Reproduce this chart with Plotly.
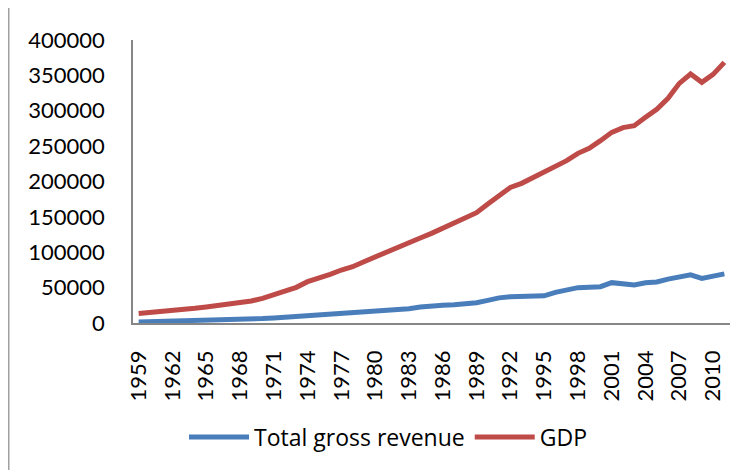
import plotly.graph_objects as go

years = list(range(1959, 2012))
revenue = [1500, 1800, 2100, 2400, 2700, 3000, 3400, 3800, 4300, 4800,
           5400, 6200, 7200, 8200, 9600, 10300, 11000, 12200, 13400, 14600,
           15800, 17300, 18400, 19300, 20300, 22600, 24500, 25200, 25800, 27000,
           28700, 32000, 35500, 37200, 37600, 38200, 38400, 43300, 46500, 50000,
           50600, 51300, 57000, 55400, 53700, 56800, 58000, 62000, 65500, 68000,
           63000, 65500, 69500]
gdp = [13500, 14600, 16000, 17900, 19300, 20700, 22600, 24500, 26400, 27800,
       31100, 34900, 39600, 45200, 50400, 58400, 62700, 68800, 74900, 79600,
       86700, 93700, 99900, 106500, 113500, 120100, 126700, 133800, 139900, 147900,
       155900, 168200, 180000, 191700, 197400, 205400, 212500, 221900, 229400, 239800,
       246900, 257700, 269500, 276100, 278900, 290700, 302000, 317500, 338700, 351900,
       340100, 351400, 368400]
tick_years = years[::3]
y_ticks = [0, 50000, 100000, 150000, 200000, 250000, 300000, 350000, 400000]

idx = list(range(len(years)))
font_family = "Lato, 'Open Sans', sans-serif"

fig = go.Figure()
fig.add_trace(go.Scatter(x=idx, y=revenue, mode="lines", name="Total gross revenue",
                         line=dict(color="#4A7EBB", width=5)))
fig.add_trace(go.Scatter(x=idx, y=gdp, mode="lines", name="GDP",
                         line=dict(color="#BE4B48", width=5)))

# page body has an 8px default margin, so the figure is 8px smaller than the window
W, H = 739, 462
L, R, T, B = 125, 17, 32, 147
pw, ph = W - L - R, H - T - B

fig.update_layout(
    width=W, height=H,
    margin=dict(l=L, r=R, t=T, b=B, pad=0, autoexpand=False),
    paper_bgcolor="white", plot_bgcolor="white",
    font=dict(family=font_family, size=22, color="#000000"),
    showlegend=True,
    legend=dict(orientation="h", xref="container", yref="container",
                x=380 / W, y=(H - 429) / H,
                xanchor="center", yanchor="middle",
                font=dict(family="'Open Sans', sans-serif", size=23),
                itemwidth=60, bgcolor="rgba(0,0,0,0)"),
    xaxis=dict(range=[-0.5, len(years) - 0.5], tickmode="array",
               tickvals=[years.index(y) for y in tick_years],
               ticktext=[str(y) for y in tick_years], tickangle=-90,
               showgrid=False, zeroline=False, showline=True,
               linecolor="#868686", linewidth=1.5, automargin=False,
               ticks="outside", ticklen=17, tickcolor="rgba(0,0,0,0)",
               tickfont=dict(size=22)),
    yaxis=dict(range=[0, 400000], tickmode="array", tickvals=y_ticks,
               ticktext=[str(v) for v in y_ticks],
               showgrid=False, zeroline=False, showline=True,
               linecolor="#868686", linewidth=1.5, automargin=False,
               ticks="outside", ticklen=22, tickcolor="rgba(0,0,0,0)",
               tickfont=dict(size=22)),
    shapes=[dict(type="line", xref="paper", yref="paper",
                 x0=(0.75 - L) / pw, x1=(0.75 - L) / pw,
                 y0=(T + ph - H) / ph - 0.1, y1=(T + ph) / ph + 0.1,
                 line=dict(color="#A0A0A0", width=1.5))],
)

fig.write_html("out.html")
